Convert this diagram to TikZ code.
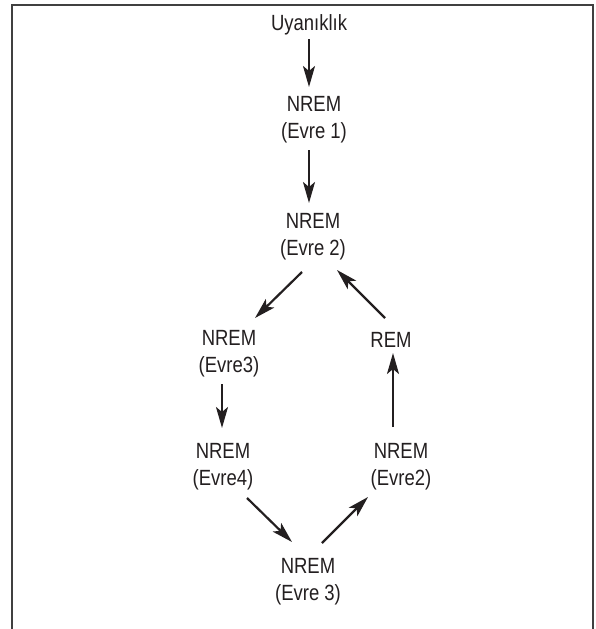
\documentclass[tikz,border=0pt]{standalone}
\usepackage{fontspec}
\setmainfont[FakeStretch=0.84]{Liberation Sans}
\usetikzlibrary{arrows.meta,calc}
\definecolor{ink}{HTML}{231F20}
\begin{document}
\begin{tikzpicture}[x=1pt,y=-1pt,
  lbl/.style={font=\fontsize{22}{27}\selectfont, align=center, inner sep=0pt, text=ink},
  arr/.style={line width=2.2pt, draw=ink, -{Stealth[length=21pt,width=12pt,inset=5pt]}},
  frame/.style={line width=2pt, draw=black!75}]
\useasboundingbox (0,0) rectangle (595,629);
\draw[frame] (12,640) -- (12,5) -- (593,5) -- (593,640);

\node[lbl] (u) at (309,25) {Uyanıklık};
\node[lbl] (e1) at (314,120) {NREM\\(Evre 1)};
\node[lbl] (e2) at (313,237) {NREM\\(Evre 2)};
\node[lbl] (n3) at (229,354) {NREM\\(Evre3)};
\node[lbl] (rem) at (391,340) {REM};
\node[lbl] (n4) at (223,467) {NREM\\(Evre4)};
\node[lbl] (r2) at (401,467) {NREM\\(Evre2)};
\node[lbl] (b3) at (308,582) {NREM\\(Evre 3)};

\draw[arr] ($(u)+(0,14)$) -- ($(u)+(0,62)$);
\draw[arr] ($(e1)+(-5,30)$) -- ($(e2)+(-4,-34)$);
\draw[arr] ($(e2)+(-11,35)$) -- ($(n3)+(26,-36)$);
\draw[arr] ($(rem)+(-6,-22)$) -- ($(e2)+(24,33)$);
\draw[arr] ($(n3)+(-7,30)$) -- ($(n4)+(-1,-39)$);
\draw[arr] ($(r2)+(-8,-40)$) -- ($(rem)+(2,13)$);
\draw[arr] ($(n4)+(24,31)$) -- ($(b3)+(-16,-40)$);
\draw[arr] ($(b3)+(14,-39)$) -- ($(r2)+(-33,30)$);
\end{tikzpicture}
\end{document}
